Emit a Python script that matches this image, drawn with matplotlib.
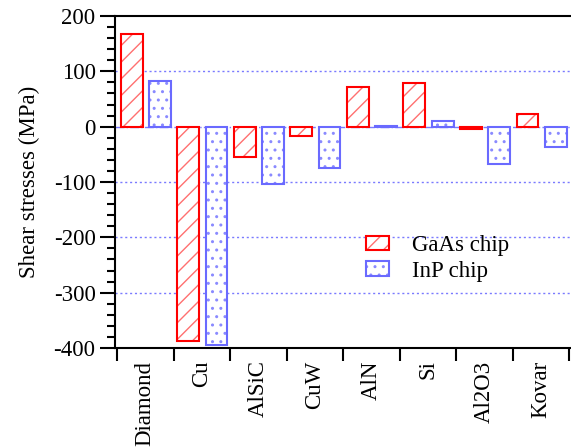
import matplotlib
matplotlib.use("Agg")
import matplotlib.pyplot as plt
import numpy as np
from matplotlib.ticker import MultipleLocator, FixedLocator

plt.rcParams['font.family'] = ['Liberation Serif', 'DejaVu Serif']
plt.rcParams['hatch.linewidth'] = 1.0
plt.rcParams['axes.unicode_minus'] = False

categories = ["Diamond", "Cu", "AlSiC", "CuW", "AlN", "Si", "Al2O3", "Kovar"]
gaas = [168, -388, -54, -17, 72, 79, -5, 22]
inp = [82, -394, -103, -74, 1, 10, -67, -37]
yticks = [-400, -300, -200, -100, 0, 100, 200]

red = "#ff0000"
red_light = "#ff7070"
blue = "#6a6aff"
blue_light = "#8a8aff"

fig = plt.figure(figsize=(5.71, 4.48), dpi=100)
ax = fig.add_axes([115/571, 1 - 348/448, 1 - 115/571, (348 - 16)/448])

x = np.arange(1, len(categories) + 1)
w = 0.385
g1 = ax.bar(x - 0.24, gaas, width=w, facecolor="white", edgecolor=red_light, hatch="//",
            linewidth=0, zorder=3)
g2 = ax.bar(x - 0.24, gaas, width=w, facecolor="none", edgecolor=red,
            linewidth=1.5, zorder=4)
i1 = ax.bar(x + 0.26, inp, width=w, facecolor="white", edgecolor=blue_light, hatch="..",
            linewidth=0, zorder=3)
i2 = ax.bar(x + 0.26, inp, width=w, facecolor="none", edgecolor=blue,
            linewidth=1.5, zorder=4)

for v in [100, -100, -200, -300]:
    ax.axhline(v, color="#7a7aff", linestyle=(0, (1.5, 2)), linewidth=1.0, zorder=1)
ax.axhline(0, color="#7a7aff", linestyle="-.", linewidth=1.0, zorder=1)

ax.set_ylim(-400, 200)
ax.set_xlim(0.465, 8.53)
ax.set_yticks(yticks)
ax.yaxis.set_minor_locator(MultipleLocator(20))
ax.tick_params(axis='y', which='major', direction='out', length=11, width=1.5, labelsize=16.5, pad=3)
ax.tick_params(axis='y', which='minor', direction='out', length=6, width=1.5)

ax.xaxis.set_major_locator(FixedLocator(np.arange(0.5, len(categories) + 1, 1.0)))
ax.xaxis.set_minor_locator(FixedLocator(x))
ax.set_xticklabels([""] * (len(categories) + 1))
ax.set_xticks(x, categories, minor=True, rotation=90)
ax.tick_params(axis='x', which='major', direction='out', length=9, width=1.5)
ax.tick_params(axis='x', which='minor', length=0, labelsize=16.5, pad=9)

ax.spines['right'].set_visible(False)
for s in ['left', 'bottom', 'top']:
    ax.spines[s].set_linewidth(1.5)

ax.set_ylabel("Shear stresses (MPa)", fontsize=16.5, labelpad=10)

ax.legend([(g1[0], g2[0]), (i1[0], i2[0])], ["GaAs chip", "InP chip"],
          loc="upper left", bbox_to_anchor=((357 - 115) / 456, 1 - (226 - 16) / 332),
          frameon=False, fontsize=16.5, handlelength=1.0, handleheight=0.6,
          handletextpad=1.0, labelspacing=0.2, borderaxespad=0)

fig.savefig("out.png", dpi=100)
